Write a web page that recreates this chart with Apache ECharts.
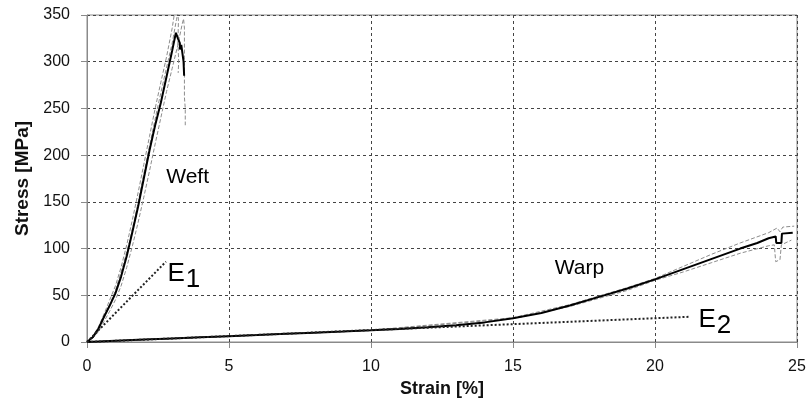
<!DOCTYPE html>
<html>
<head>
<meta charset="utf-8">
<script src="https://cdn.jsdelivr.net/npm/echarts@6/dist/echarts.min.js"></script>
<style>html,body{margin:0;padding:0;background:#fff}#c{width:811px;height:418px}</style>
</head>
<body>
<div id="c"></div>
<script>
// ---- Data (strain %, stress MPa) ----
var xTicks = [0, 5, 10, 15, 20, 25];
var yTicks = [0, 50, 100, 150, 200, 250, 300, 350];

var weftMean = [[0,0],[0.2,5],[0.4,14],[0.6,27],[0.8,39],[1.0,52],[1.2,70],[1.4,92],[1.6,118],[1.8,145],[2.0,175],[2.2,205],[2.4,232],[2.6,256],[2.8,284],[3.0,312],[3.13,331],[3.2,325],[3.27,320],[3.27,313],[3.32,318],[3.38,317],[3.4,300],[3.42,285]];
var weftLeft = [[0,0],[0.2,6],[0.4,16],[0.6,30],[0.8,45],[1.0,60],[1.2,80],[1.4,104],[1.6,131],[1.8,160],[2.0,190],[2.2,220],[2.4,250],[2.6,278],[2.8,305],[3.0,336],[3.1,356]];
var weftMid = [[0,0],[0.25,7],[0.5,19],[0.75,36],[1.0,55],[1.25,80],[1.5,108],[1.75,142],[2.0,180],[2.25,217],[2.5,253],[2.75,287],[3.0,320],[3.15,345],[3.2,352],[3.22,344],[3.2,320],[3.23,300],[3.21,288]];
var weftRight = [[0,0],[0.2,4],[0.4,11],[0.6,22],[0.8,33],[1.0,45],[1.2,60],[1.4,80],[1.6,103],[1.8,128],[2.0,155],[2.2,183],[2.4,212],[2.6,240],[2.8,268],[3.0,293],[3.2,318],[3.35,340],[3.4,346],[3.43,336],[3.43,262],[3.46,250],[3.46,232]];

var warpMean = [[0,0],[1,1.3],[2,2.6],[3,3.8],[4,5],[5,6.2],[6,7.4],[7,8.7],[8,10],[9,11.2],[10,12.5],[11,14],[12,15.8],[13,18],[14,21],[15,25.5],[16,31],[17,39],[18,48],[19,57],[20,67],[21,78],[22,89],[23,100],[23.6,106],[24,111],[24.25,113],[24.27,106],[24.45,106],[24.47,116],[24.85,117]];
var warpUpper = [[0,0],[5,6.3],[10,12.7],[15,26],[17,40],[19,58],[20,68],[21,81],[22,94],[23,106],[24,117],[24.3,122],[24.4,118],[24.5,123],[24.9,124]];
var warpLower = [[0,0],[5,6.1],[10,12.3],[15,25],[17,38],[19,55],[20,66],[21,75],[22,85],[23,95],[24,103],[24.2,104],[24.25,86],[24.4,88],[24.45,104],[24.8,109]];

var e1Line = [[0,0],[2.78,86]];
var e2Line = [[0,0],[21.2,27]];

var annotations = [
  {name:'Weft', value:[3.56,176], kind:'plain'},
  {name:'Warp', value:[17.36,78], kind:'plain'},
  {name:'E1', value:[2.85,72], kind:'sub', base:'E', sub:'1'},
  {name:'E2', value:[21.55,23], kind:'sub', base:'E', sub:'2'}
];

var FONT = '"Liberation Sans", Arial, sans-serif';
var chart = echarts.init(document.getElementById('c'), null, {renderer:'canvas'});

function lineSeries(data, color, width, type, z){
  return {type:'line', data:data, showSymbol:false, symbol:'none', clip:true, z:z||2,
    lineStyle:{color:color, width:width, type:type||'solid'}, silent:true, animation:false};
}

chart.setOption({
  animation:false,
  grid:{left:87, right:14, top:15, bottom:76, show:true, borderColor:'#8a8a8a', borderWidth:1},
  xAxis:{type:'value', min:0, max:25, interval:5,
    name:'Strain [%]', nameLocation:'middle', nameGap:33,
    nameTextStyle:{fontFamily:FONT, fontSize:18, fontWeight:'bold', color:'#111'},
    axisLine:{show:true, lineStyle:{color:'#8a8a8a', width:1}},
    axisTick:{show:true, inside:false, length:6, lineStyle:{color:'#8a8a8a'}},
    axisLabel:{fontFamily:FONT, fontSize:16, color:'#111', margin:17,
      formatter:function(v){return xTicks.indexOf(v)>=0? String(v):'';}},
    splitLine:{show:true, lineStyle:{color:'#444', width:1, type:[3,3]}}
  },
  yAxis:{type:'value', min:0, max:350, interval:50,
    name:'Stress [MPa]', nameLocation:'middle', nameGap:55, nameRotate:90,
    nameTextStyle:{fontFamily:FONT, fontSize:19, fontWeight:'bold', color:'#111'},
    axisLine:{show:true, lineStyle:{color:'#8a8a8a', width:1}},
    axisTick:{show:true, inside:false, length:6, lineStyle:{color:'#8a8a8a'}},
    axisLabel:{fontFamily:FONT, fontSize:16, color:'#111', margin:17,
      formatter:function(v){return yTicks.indexOf(v)>=0? String(v):'';}},
    splitLine:{show:true, lineStyle:{color:'#444', width:1, type:[3,3]}}
  },
  series:[
    lineSeries(weftLeft, '#8c8c8c', 1, [4,2], 2),
    lineSeries(weftMid, '#8c8c8c', 1, [4,2], 2),
    lineSeries(weftRight, '#8c8c8c', 1, [4,2], 2),
    lineSeries(warpUpper, '#8c8c8c', 1, [4,2], 2),
    lineSeries(warpLower, '#8c8c8c', 1, [4,2], 2),
    lineSeries(weftMean, '#000', 2, 'solid', 3),
    lineSeries(warpMean, '#000', 2, 'solid', 3),
    lineSeries(e1Line, '#222', 2, [2,2], 4),
    lineSeries(e2Line, '#222', 2, [2,2], 4),
    {type:'scatter', symbolSize:1, silent:true, z:5,
      itemStyle:{color:'rgba(0,0,0,0)', opacity:1},
      data:annotations.map(function(a){
        return {name:a.name, value:a.value, kind:a.kind, base:a.base, sub:a.sub,
          label:{align: a.kind==='plain' ? 'center' : 'left'}};
      }),
      label:{show:true, position:[0,0], verticalAlign:'middle', fontFamily:FONT, color:'#000',
        opacity:1, textBorderWidth:0, textShadowBlur:0,
        formatter:function(p){
          var d=p.data;
          if(d.kind==='plain') return '{p|'+d.name+'}';
          return '{e|'+d.base+'}{s|'+d.sub+'}';
        },
        rich:{
          p:{fontFamily:FONT, fontSize:21, color:'#000'},
          e:{fontFamily:FONT, fontSize:26, color:'#000', verticalAlign:'bottom', padding:[0,0,6,0]},
          s:{fontFamily:FONT, fontSize:26, color:'#000', verticalAlign:'bottom', padding:[12,0,0,1]}
        }
      }
    }
  ]
});
</script>
</body>
</html>
